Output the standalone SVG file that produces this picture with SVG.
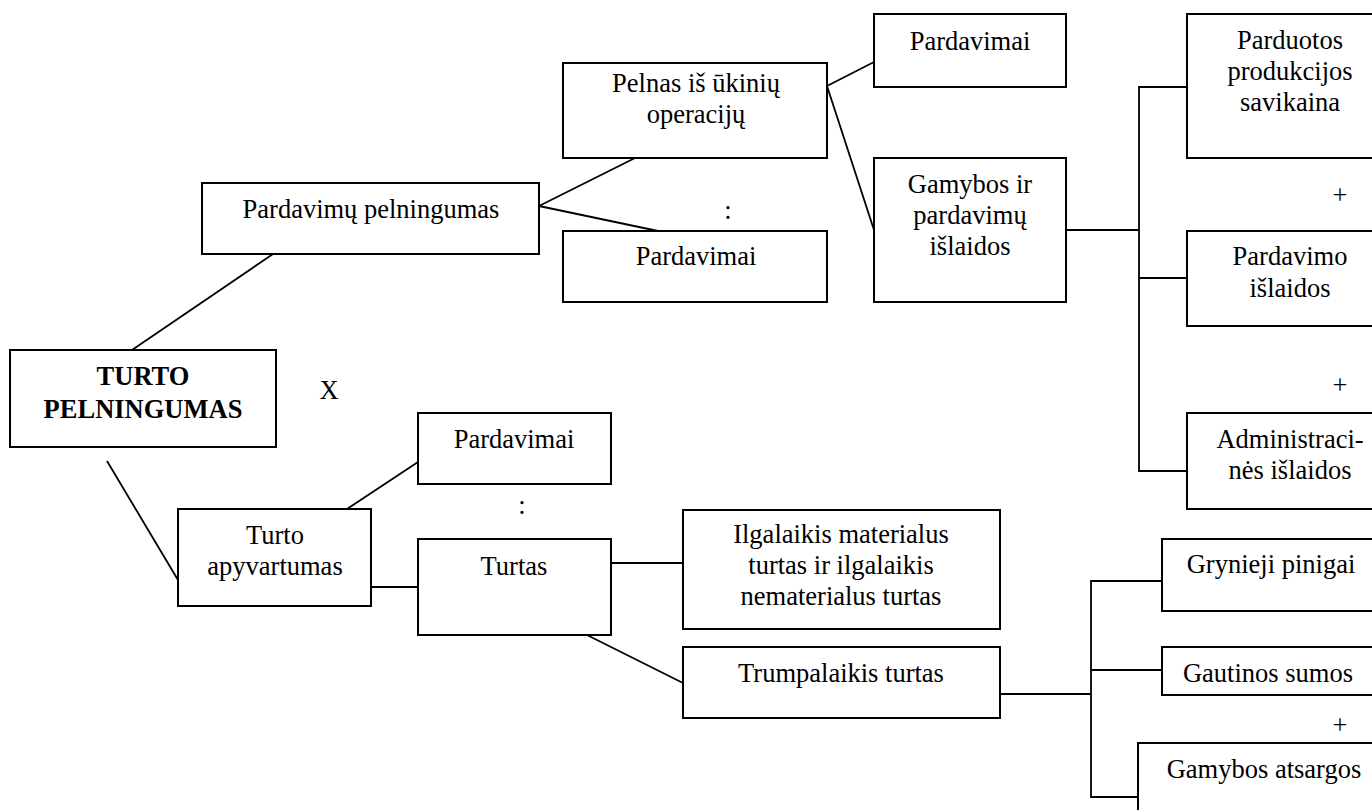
<svg xmlns="http://www.w3.org/2000/svg" width="1372" height="810" viewBox="0 0 1372 810">
<style>
.b{fill:#fff;stroke:#000;stroke-width:2}
.t{font-family:"Liberation Serif","Times New Roman",serif;font-size:26.5px;fill:#000;text-anchor:middle}
.bold{font-weight:bold}
.c{fill:none;stroke:#000;stroke-width:1.8}
</style>
<rect width="1372" height="810" fill="#fff"/>
<g id="connectors">
<line class="c" x1="539" y1="206" x2="635" y2="158"/>
<line class="c" x1="539" y1="206" x2="658" y2="231"/>
<line class="c" x1="273" y1="254" x2="132" y2="350"/>
<line class="c" x1="827" y1="86" x2="874" y2="62"/>
<line class="c" x1="827" y1="86" x2="874" y2="230"/>
<polyline class="c" points="1066,230 1139,230"/>
<polyline class="c" points="1187,87 1139,87 1139,471 1187,471"/>
<line class="c" x1="1139" y1="278" x2="1187" y2="278"/>
<line class="c" x1="107" y1="461" x2="178" y2="580"/>
<line class="c" x1="347" y1="509" x2="418" y2="462"/>
<line class="c" x1="371" y1="587" x2="418" y2="587"/>
<line class="c" x1="611" y1="563" x2="683" y2="563"/>
<line class="c" x1="587" y1="635" x2="683" y2="683"/>
<line class="c" x1="1000" y1="694" x2="1091" y2="694"/>
<polyline class="c" points="1162,581 1091,581 1091,797 1138,797"/>
<line class="c" x1="1091" y1="670" x2="1162" y2="670"/>
</g>
<g id="turto-pelningumas">
<rect class="b" x="10" y="350" width="266" height="97"/>
<text class="t bold" x="143" y="385">TURTO</text>
<text class="t bold" x="143" y="418">PELNINGUMAS</text>
</g>
<g id="pardavimu-pelningumas">
<rect class="b" x="202" y="183" width="337" height="71"/>
<text class="t" x="371" y="218">Pardavimų pelningumas</text>
</g>
<g id="pelnas">
<rect class="b" x="563" y="63" width="264" height="95"/>
<text class="t" x="696" y="92">Pelnas iš ūkinių</text>
<text class="t" x="696" y="123">operacijų</text>
</g>
<g id="pardavimai-mid">
<rect class="b" x="563" y="231" width="264" height="71"/>
<text class="t" x="696" y="265">Pardavimai</text>
</g>
<g id="pardavimai-top">
<rect class="b" x="874" y="14" width="192" height="73"/>
<text class="t" x="970" y="50">Pardavimai</text>
</g>
<g id="gamybos-pardavimu">
<rect class="b" x="874" y="158" width="192" height="144"/>
<text class="t" x="970" y="193">Gamybos ir</text>
<text class="t" x="970" y="224">pardavimų</text>
<text class="t" x="970" y="255">išlaidos</text>
</g>
<g id="parduotos">
<rect class="b" x="1187" y="14" width="220" height="144"/>
<text class="t" x="1290" y="49">Parduotos</text>
<text class="t" x="1290" y="80">produkcijos</text>
<text class="t" x="1290" y="111">savikaina</text>
</g>
<g id="pardavimo-islaidos">
<rect class="b" x="1187" y="231" width="220" height="95"/>
<text class="t" x="1290" y="265">Pardavimo</text>
<text class="t" x="1290" y="297">išlaidos</text>
</g>
<g id="administracines">
<rect class="b" x="1187" y="413" width="220" height="96"/>
<text class="t" x="1290" y="448">Administraci-</text>
<text class="t" x="1290" y="479">nės išlaidos</text>
</g>
<g id="turto-apyvartumas">
<rect class="b" x="178" y="509" width="193" height="97"/>
<text class="t" x="275" y="544">Turto</text>
<text class="t" x="275" y="575">apyvartumas</text>
</g>
<g id="pardavimai-low">
<rect class="b" x="418" y="413" width="193" height="71"/>
<text class="t" x="514" y="448">Pardavimai</text>
</g>
<g id="turtas">
<rect class="b" x="418" y="539" width="193" height="96"/>
<text class="t" x="514" y="575">Turtas</text>
</g>
<g id="ilgalaikis">
<rect class="b" x="683" y="510" width="317" height="119"/>
<text class="t" x="841" y="543">Ilgalaikis materialus</text>
<text class="t" x="841" y="574">turtas ir ilgalaikis</text>
<text class="t" x="841" y="605">nematerialus turtas</text>
</g>
<g id="trumpalaikis">
<rect class="b" x="683" y="647" width="317" height="71"/>
<text class="t" x="841" y="682">Trumpalaikis turtas</text>
</g>
<g id="grynieji">
<rect class="b" x="1162" y="539" width="240" height="72"/>
<text class="t" x="1271" y="573">Grynieji pinigai</text>
</g>
<g id="gautinos">
<rect class="b" x="1162" y="647" width="240" height="48"/>
<text class="t" x="1268" y="682">Gautinos sumos</text>
</g>
<g id="gamybos-atsargos">
<rect class="b" x="1138" y="743" width="260" height="80"/>
<text class="t" x="1264" y="778">Gamybos atsargos</text>
</g>
<g id="operators">
<text class="t" x="728" y="219">:</text>
<text class="t" x="522" y="514">:</text>
<text class="t" x="329" y="399">X</text>
<text class="t" x="1340" y="204">+</text>
<text class="t" x="1340" y="394">+</text>
<text class="t" x="1340" y="734">+</text>
</g>
</svg>
